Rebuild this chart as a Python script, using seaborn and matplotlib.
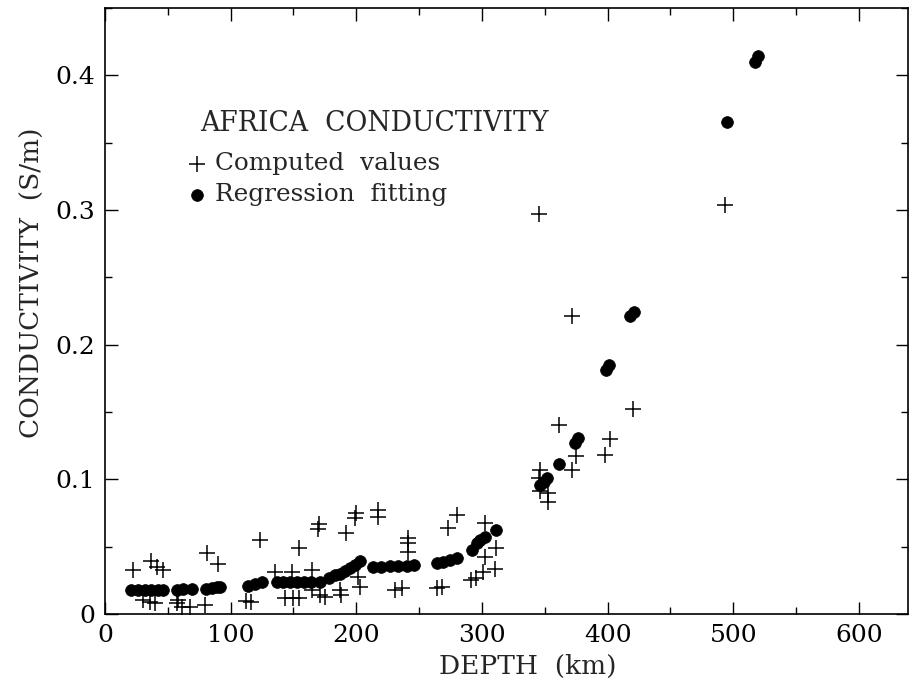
import matplotlib
matplotlib.use("Agg")
import matplotlib.pyplot as plt
import pandas as pd
import seaborn as sns
from matplotlib.ticker import MultipleLocator, FuncFormatter

sns.set_style("ticks")
plt.rcParams['font.family'] = ['DejaVu Serif']

# computed values (+ markers), depth in km, conductivity in S/m
comp_depth = [22.5, 37, 41, 46, 30.5, 36, 40, 57, 58, 61, 67.5, 79.5, 81, 90,
              112, 116, 123, 135, 148.5, 143, 150, 154, 154, 164.5, 164.5, 171,
              170.5, 169.5, 175, 187, 188, 192, 200, 199, 201.5, 203,
              217.5, 217.5, 230.5, 236, 241, 241, 241, 264, 268, 273, 280,
              291.5, 295.5, 301, 302, 302, 310, 311.5,
              345, 346, 346, 352.5, 352.5, 345.5, 361.5, 372, 375, 372,
              398, 401.5, 420, 493]
comp_cond = [0.0325, 0.039, 0.0352, 0.0325, 0.0104, 0.0092, 0.008, 0.008, 0.0104, 0.0054, 0.0054, 0.0067, 0.0456, 0.037,
             0.0095, 0.009, 0.055, 0.0315, 0.0315, 0.0117, 0.0117, 0.0117, 0.0488, 0.0327, 0.0178, 0.0141,
             0.067, 0.063, 0.0129, 0.0178, 0.0141, 0.060, 0.075, 0.0712, 0.0277, 0.0203,
             0.0773, 0.0723, 0.0178, 0.0191, 0.0563, 0.0526, 0.0463, 0.019, 0.0198, 0.0637, 0.0736,
             0.0253, 0.0265, 0.0315, 0.0426, 0.0674, 0.0332, 0.0488,
             0.101, 0.107, 0.091, 0.0897, 0.083, 0.297, 0.1405, 0.1066, 0.117, 0.2213,
             0.118, 0.130, 0.152, 0.304]

# regression fitting (filled dots)
fit_depth = [21, 26.5, 32, 37, 42.5, 46.5, 57, 62, 69, 80, 85, 89, 91.5,
             114, 119, 125, 137, 142, 147, 152.5, 158, 164, 171,
             178, 183, 187, 191, 195, 199, 203,
             213, 220, 227, 233, 240, 245.5, 264, 269, 274.5, 280,
             292, 296, 298.5, 302, 311.5, 346, 349, 352, 361.5, 374, 376.5,
             398.5, 401, 418, 421, 495, 517, 520]
fit_cond = [0.0175, 0.0175, 0.0175, 0.0175, 0.0175, 0.0175, 0.018, 0.0184, 0.0184, 0.0184, 0.019, 0.0198, 0.0203,
            0.0208, 0.0223, 0.024, 0.024, 0.024, 0.024, 0.024, 0.024, 0.0235, 0.024,
            0.0265, 0.029, 0.030, 0.032, 0.034, 0.0364, 0.039,
            0.0352, 0.0352, 0.0355, 0.0357, 0.0357, 0.0364, 0.0377, 0.0389, 0.040, 0.0414,
            0.0476, 0.0526, 0.055, 0.0575, 0.0625, 0.096, 0.098, 0.101, 0.1115, 0.127, 0.1306,
            0.1814, 0.1851, 0.221, 0.224, 0.365, 0.410, 0.414]

comp = pd.DataFrame({'depth': comp_depth, 'cond': comp_cond})
fit = pd.DataFrame({'depth': fit_depth, 'cond': fit_cond})

fig = plt.figure(figsize=(9.09, 6.9), dpi=100)
ax = fig.add_axes([105 / 909, 76 / 690, 803 / 909, 606 / 690])

sns.scatterplot(data=comp, x='depth', y='cond', marker='+', s=130, color='black',
                linewidth=1.1, label='Computed  values', ax=ax)
sns.scatterplot(data=fit, x='depth', y='cond', marker='o', s=72, color='black',
                edgecolor='black', linewidth=0.5, label='Regression  fitting', ax=ax)

ax.set_xlim(0, 639)
ax.set_ylim(0, 0.45)
ax.xaxis.set_major_locator(MultipleLocator(100))
ax.xaxis.set_minor_locator(MultipleLocator(50))
ax.yaxis.set_major_locator(MultipleLocator(0.1))
ax.yaxis.set_minor_locator(MultipleLocator(0.05))
ax.xaxis.set_major_formatter(FuncFormatter(lambda v, p: '%d' % v))
ax.yaxis.set_major_formatter(FuncFormatter(lambda v, p: '0' if v == 0 else '%.1f' % v))

ax.tick_params(which='both', direction='in', top=True, right=True, width=1, colors='black')
ax.tick_params(which='major', length=9, labelsize=18, pad=7)
ax.tick_params(which='minor', length=5)
for sp in ax.spines.values():
    sp.set_linewidth(1.2)
    sp.set_color('black')

ax.set_xlabel('DEPTH  (km)', fontsize=19)
ax.set_ylabel('CONDUCTIVITY  (S/m)', fontsize=19)
ax.xaxis.set_label_coords(0.526, -0.066)
ax.yaxis.set_label_coords(-0.075, 0.546)

# title of the legend block
ax.text(0.118, 0.810, 'AFRICA  CONDUCTIVITY', transform=ax.transAxes,
        fontsize=19.2, va='center', ha='left')
leg = ax.legend(loc='upper left', bbox_to_anchor=(0.099, 0.762),
                frameon=False, fontsize=17.8,
                handletextpad=0.25, borderpad=0, borderaxespad=0, labelspacing=0.32,
                handlelength=1.0)

fig.savefig('out.png', dpi=100)
